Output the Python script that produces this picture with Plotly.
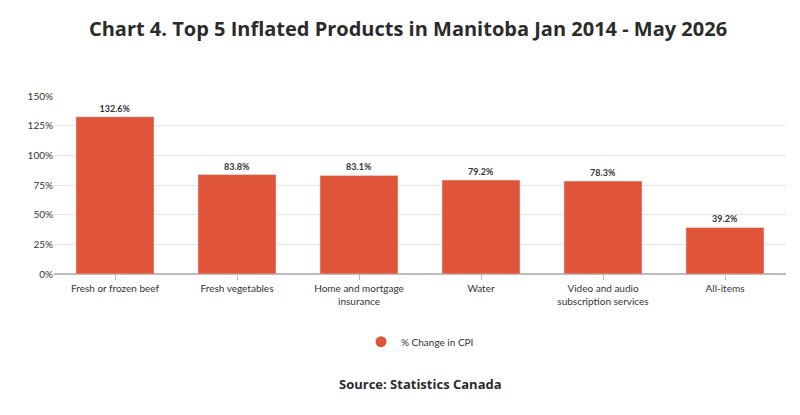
import plotly.graph_objects as go

categories = ["Fresh or frozen beef", "Fresh vegetables", "Home and mortgage<br>insurance",
              "Water", "Video and audio<br>subscription services", "All-items"]
values = [132.6, 83.8, 83.1, 79.2, 78.3, 39.2]

fig = go.Figure()
fig.add_trace(go.Bar(
    x=categories, y=values,
    name="% Change in CPI",
    marker_color="#E0553A",
    width=0.64,
    text=[f"{v:.1f}%" for v in values],
    textposition="outside",
    textfont=dict(size=9, color="#333333", family="Lato", weight="bold"),
    cliponaxis=False,
    showlegend=False,
))
# legend marker as a circle
fig.add_trace(go.Scatter(
    x=[None], y=[None], mode="markers", name="% Change in CPI",
    marker=dict(symbol="circle", size=11, color="#E0553A"),
))

fig.update_layout(
    width=800, height=415,
    paper_bgcolor="white", plot_bgcolor="white",
    font=dict(family="Lato", size=10, color="#333333"),
    title=dict(text="<b>Chart 4. Top 5 Inflated Products in Manitoba Jan 2014 - May 2026</b>",
               x=0.5, xanchor="center", y=0.95, yanchor="middle",
               font=dict(size=20, color="#2b2b2b", family="Open Sans")),
    margin=dict(l=46, r=22, t=88, b=149),
    bargap=0.36,
    legend=dict(orientation="h", x=0.5, xanchor="center", y=-0.38, yanchor="middle",
                font=dict(size=10)),
    annotations=[dict(text="<b>Source: Statistics Canada</b>", x=0.5, xref="paper",
                      y=-0.68, yref="paper", showarrow=False,
                      font=dict(size=13, color="#2b2b2b", family="Open Sans"))],
)
fig.update_yaxes(range=[0, 150], dtick=25, ticksuffix="%", gridcolor="#e6e6e6",
                 zeroline=True, zerolinecolor="#bbbbbb", tickfont=dict(size=10))
fig.update_xaxes(showline=True, linecolor="#bbbbbb", ticks="outside", ticklen=5,
                 tickcolor="#bbbbbb", tickfont=dict(size=10))

fig.write_html("out.html")
